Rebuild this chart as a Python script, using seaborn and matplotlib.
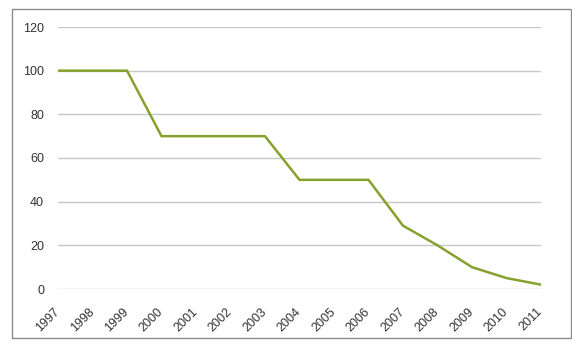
import matplotlib
matplotlib.use("Agg")
import matplotlib.pyplot as plt
import matplotlib.transforms as mtransforms
import seaborn as sns
import pandas as pd
from matplotlib.patches import Rectangle

years = [1997, 1998, 1999, 2000, 2001, 2002, 2003, 2004, 2005, 2006, 2007, 2008, 2009, 2010, 2011]
values = [100, 100, 100, 70, 70, 70, 70, 50, 50, 50, 29, 20, 10, 5, 2]
y_ticks = [0, 20, 40, 60, 80, 100, 120]

df = pd.DataFrame({"year": years, "value": values})

sns.set_theme(style="white")
plt.rcParams["font.family"] = ["Liberation Sans", "DejaVu Sans"]

fig = plt.figure(figsize=(5.72, 3.43), dpi=100)
W, H = 572, 343
ax = fig.add_axes([58 / W, 1 - 289 / H, (541 - 58) / W, (289 - 27) / H])

sns.lineplot(data=df, x="year", y="value", ax=ax, color="#86a22e", linewidth=1.8)

ax.set_xlim(1997, 2011)
ax.set_ylim(0, 120)
ax.set_yticks(y_ticks)
ax.set_xticks(years)
ax.set_xticklabels([str(y) for y in years], rotation=45, ha="right", va="top")
ax.yaxis.grid(True, color="#c8c8c8", linewidth=1.0)
ax.xaxis.grid(False)
ax.set_axisbelow(True)
for s in ax.spines.values():
    s.set_visible(False)
ax.tick_params(axis="y", length=0, pad=10, labelsize=9, labelcolor="#333333")
ax.tick_params(axis="x", length=0, pad=12, labelsize=9, labelcolor="#333333")
ax.set_xlabel("")
ax.set_ylabel("")

shift = mtransforms.ScaledTranslation(4 / 100, 0, fig.dpi_scale_trans)
for lbl in ax.get_xticklabels():
    lbl.set_transform(lbl.get_transform() + shift)

fig.patches.append(Rectangle((12 / W, 1 - 338 / H), (571 - 12) / W, (338 - 9) / H,
                             transform=fig.transFigure, fill=False,
                             edgecolor="#8c8c8c", linewidth=1.0))

fig.savefig("out.png", dpi=100)
